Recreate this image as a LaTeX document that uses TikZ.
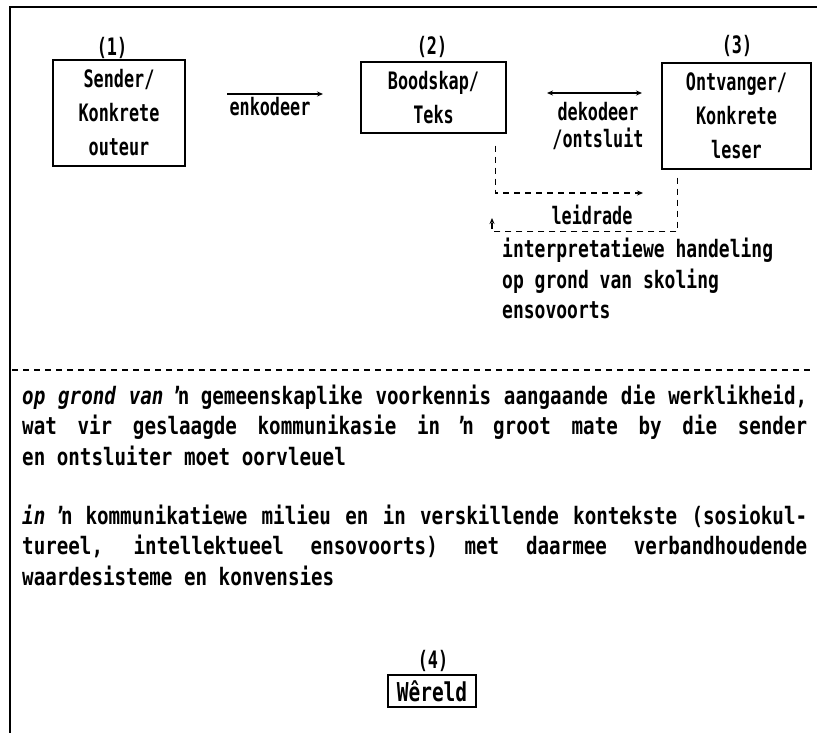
\documentclass[tikz,border=0pt]{standalone}
\usepackage{fontspec}
\newfontfamily\tw[FakeStretch=0.70]{DejaVu Sans Mono}
\newfontfamily\twb[FakeStretch=0.80]{DejaVu Sans Mono}
\newfontfamily\twc[FakeStretch=0.75]{DejaVu Sans Mono}
\usetikzlibrary{arrows.meta,calc}
\newcommand\jl[1]{\hbox to 785pt{\spaceskip=\fontdimen2\font plus 1fil\relax #1}}
\newcommand\cl[1]{\hbox to 0pt{\hss #1\hss}}
\begin{document}
\begin{tikzpicture}[x=1pt,y=-1pt,
  txt/.style={font=\tw\bfseries\fontsize{24}{34}\selectfont, inner sep=0pt},
  body/.style={font=\twb\bfseries\fontsize{24}{34}\selectfont, inner sep=0pt},
  box/.style={txt, draw, line width=1.4pt, align=center},
  arr/.style={line width=1.3pt, -{Stealth[length=6pt,width=5pt]}},
  dsh/.style={arr, dash pattern=on 6pt off 5pt},
  sep/.style={line width=1.2pt, dash pattern=on 6pt off 5pt},
  frame/.style={line width=2pt}]
\useasboundingbox (0,0) rectangle (817,733);
% frame
\coordinate (ftl) at (10,7);
\coordinate (ftr) at (817,7);
\coordinate (fbl) at (10,733);
\draw[frame] (ftr) -- (ftl) -- (fbl);
% boxes
\node[box, minimum width=132pt, minimum height=106pt] (b1) at (119,113) {Sender/\\Konkrete\\outeur};
\node[box, minimum width=145pt, minimum height=71pt] (b2) at (433.5,97.5) {Boodskap/\\Teks};
\node[box, minimum width=149pt, minimum height=106pt] (b3) at (736.5,116) {Ontvanger/\\Konkrete\\leser};
\node[txt] (n1) at (112,48) {(1)};
\node[txt] (n2) at (432,47) {(2)};
\node[txt] (n3) at (737,46) {(3)};
% enkodeer
\coordinate (e1) at (227,94);
\coordinate (e2) at (323,94);
\draw[arr] (e1) -- (e2);
\node[txt, anchor=base] (enk) at (270,116) {enkodeer};
% dekodeer
\coordinate (d1) at (547,93);
\coordinate (d2) at (642,93);
\draw[line width=1.3pt, {Stealth[length=6pt,width=5pt]}-{Stealth[length=6pt,width=5pt]}] (d1) -- (d2);
\node[txt, anchor=base] (dek) at (598,121) {\vtop{\baselineskip=27pt\cl{dekodeer}\cl{/ontsluit}}};
% leidrade loop
\coordinate (ua) at (643,193);
\coordinate (la) at (492,218);
\draw[dsh] ($(b2.south east)+(-11,12)$) |- (ua);
\draw[dsh] ($(b3.south west)+(16,8)$) -- ++(0,54) -| (la);
\node[txt, anchor=base] (lei) at (592,224) {leidrade};
\node[body, font=\twc\bfseries\fontsize{24}{34}\selectfont, anchor=base west] (int) at (502,257) {\vtop{\baselineskip=31pt\hbox{interpretatiewe handeling}\hbox{op grond van skoling}\hbox{ensovoorts}}};
% separator
\coordinate (s1) at (12,370);
\coordinate (s2) at (810,370);
\draw[sep] (s1) -- (s2);
% paragraphs
\node[body, anchor=base west] (p1) at (22,404) {\vtop{\baselineskip=30.5pt
  \jl{{\itshape op grond van} ŉ gemeenskaplike voorkennis aangaande die werklikheid,}
  \jl{wat vir geslaagde kommunikasie in ŉ groot mate by die sender}
  \hbox{en ontsluiter moet oorvleuel}}};
\node[body, anchor=base west] (p2) at (22,524) {\vtop{\baselineskip=30.5pt
  \jl{{\itshape in} ŉ kommunikatiewe milieu en in verskillende kontekste (sosiokul-}
  \jl{tureel, intellektueel ensovoorts) met daarmee verbandhoudende}
  \hbox{waardesisteme en konvensies}}};
% world
\node[txt] (n4) at (433,661) {(4)};
\node[box, font=\twc\bfseries\fontsize{26}{34}\selectfont, line width=2.2pt, minimum width=88pt, minimum height=32pt] (b4) at (432,691) {Wêreld};
\end{tikzpicture}
\end{document}
